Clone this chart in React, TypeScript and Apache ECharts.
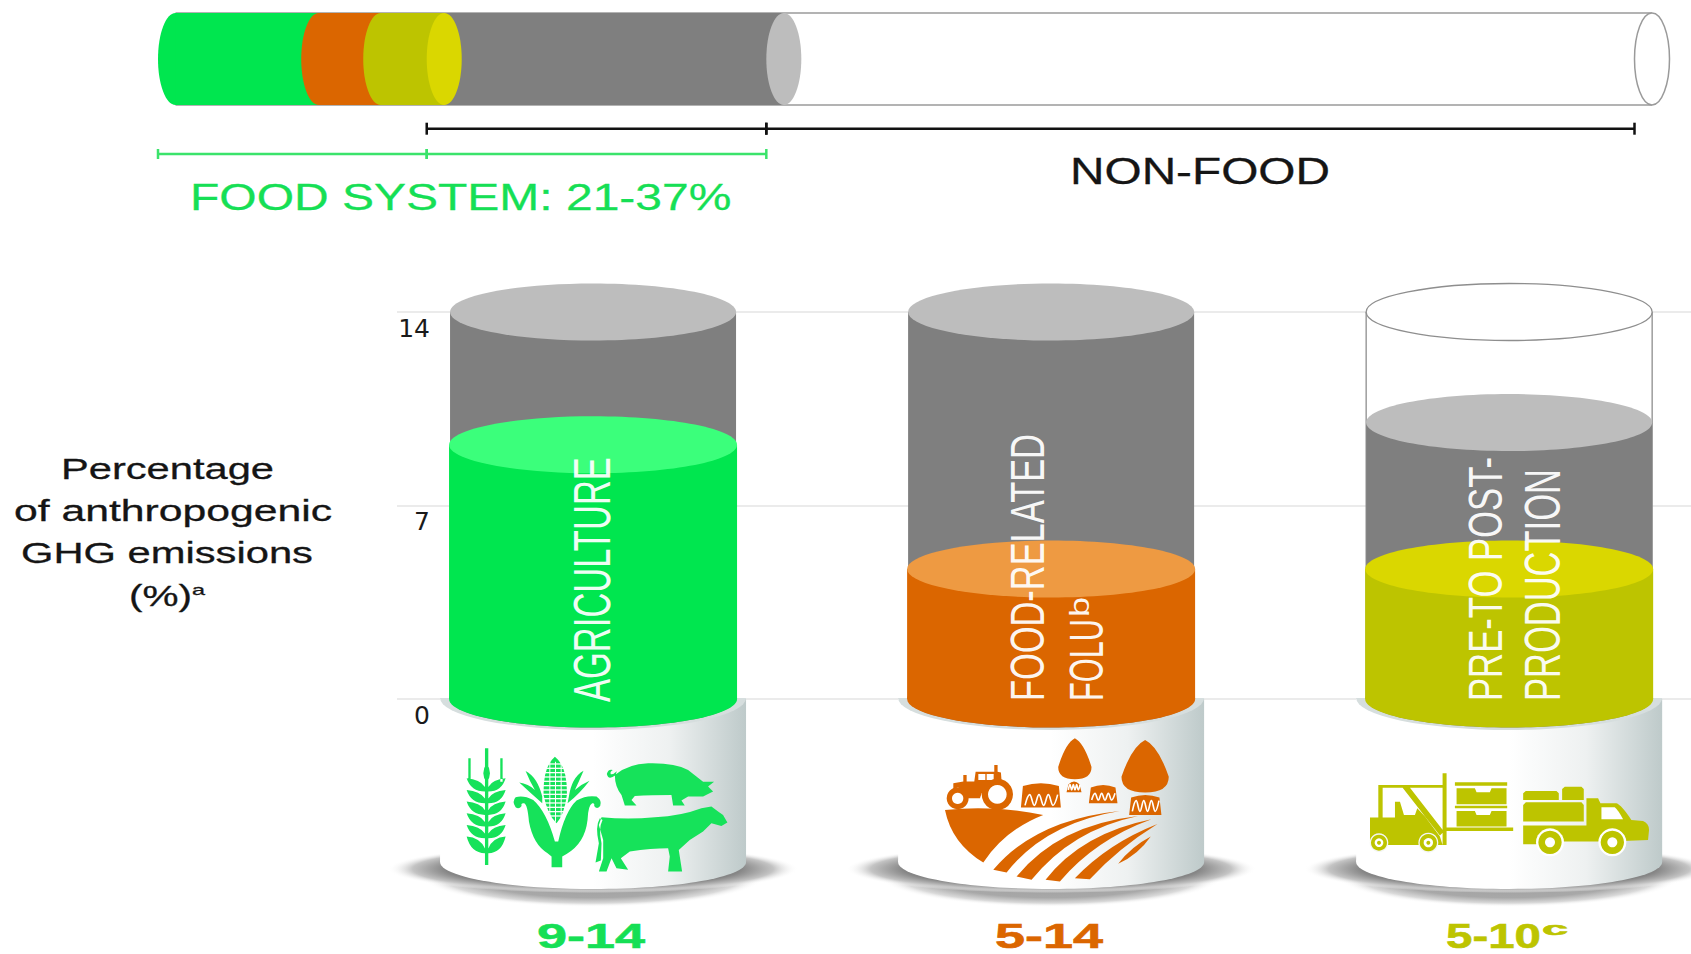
import React, { useEffect, useRef } from "react";
import * as echarts from "echarts";

// ---- data ----
const categories = ["Agriculture", "Food-related FOLU", "Pre- to post-production"];
const lowValues = [9.2, 4.7, 4.7];
const highValues = [14, 14, 10];
const capacity = 14;
const yTicks = [0, 7, 14];
const rangeLabels = ["9-14", "5-14", "5-10"];

const foodStops = [0, 9.7, 13.9, 18.2];
const greyStops = [18.2, 41.2];
const tubeStops = [0, 100];
const bracketGreen = [0, 18.2, 41.2];
const bracketBlack = [18.2, 41.2, 100];

// ---- colours ----
const GREEN = "#00E64F", ORANGE = "#DB6600", OLIVE = "#BDC400", GREY = "#7F7F7F", LIGHT = "#BDBDBD";
const topColors = ["#3BFF7B", "#EE9A42", "#DAD700"];
const lowColors = [GREEN, ORANGE, OLIVE];
const textColors = ["#16DF55", "#DB6600", "#BDC400"];
const FONT = '"Liberation Sans", Arial, sans-serif';

// ---- text helpers (the reference is horizontally stretched) ----
const ctx = document.createElement("canvas").getContext("2d") as CanvasRenderingContext2D;
const natural = (s: string, fs: number, weight = "normal") => {
  ctx.font = `${weight} ${fs}px "Liberation Sans"`;
  return ctx.measureText(s).width;
};
const hText = (s: string, left: number, cy: number, width: number, capH: number, fill: string, weight = "normal", heavy = 0.3) => {
  const fs = capH / 0.716;
  return {
    type: "text", z: 100, x: left, y: cy, scaleX: width / natural(s, fs, weight), silent: true,
    style: { text: s, fontSize: fs, lineHeight: Math.round(capH * 1.2), fontFamily: FONT, fontWeight: weight, fill, stroke: fill, lineWidth: heavy, align: "left", verticalAlign: "middle", textAlign: "left", textVerticalAlign: "middle" },
  };
};
const vText = (s: string, xLeft: number, xRight: number, yBottom: number, yTop: number, fs = 30) => ({
  type: "text", z: 100, x: (xLeft + xRight) / 2, y: yBottom, rotation: Math.PI / 2, silent: true,
  scaleX: (yBottom - yTop) / natural(s, fs),
  scaleY: (xRight - xLeft) / (0.716 * fs),
  style: { text: s, fontSize: fs, fontFamily: FONT, fill: "#FFFFFF", opacity: 0.95, align: "left", verticalAlign: "middle", textAlign: "left", textVerticalAlign: "middle" },
});

// ---- icons, drawn in 3x local units of their own patch ----
let shapeId = 0;
const icon = (d: string, fill: string, ox: number, oy: number) => {
  const name = "icon" + shapeId++;
  echarts.graphic.registerShape(name, (echarts.graphic as any).extendPath(d, {}));
  return { type: name, z: 90, x: ox, y: oy, scaleX: 1 / 3, scaleY: 1 / 3, silent: true, style: { fill } };
};
const dot = (ox: number, oy: number) => (u: number, v: number, r: number, fill: string, z = 91) => ({
  type: "circle", z, silent: true, shape: { cx: ox + u / 3, cy: oy + v / 3, r: r / 3 }, style: { fill },
});
const squiggle = (ox: number, oy: number, l: number, r: number, v: number, amp: number) => {
  const points: number[][] = [];
  const n = 7;
  for (let i = 0; i <= n; i++) points.push([ox + (l + ((r - l) * i) / n) / 3, oy + (v + (i % 2 ? -amp : amp)) / 3]);
  return { type: "polyline", z: 92, silent: true, shape: { points, smooth: 0.4 }, style: { stroke: "#FFFFFF", lineWidth: 1.6, fill: "none" } };
};

const G_X = 455, G_Y = 740, O_X = 935, O_Y = 730, Y_X = 1360, Y_Y = 765;
const ICON_GREEN = "#16E25A";

let wheat = "M90 25L100 25L100 375L90 375Z M95 70Q115 100 95 128Q75 100 95 70Z M40 55L47 55L47 125L40 125Z M136 55L143 55L143 125L136 125Z ";
[0, 1, 2, 3, 4, 5].forEach((i) => {
  const v = 115 + i * 35;
  const h = i === 5 ? 50 : 40;
  wheat += `M90 ${v + h}Q48 ${v + h} 35 ${v}Q75 ${v + 3} 90 ${v + h - 14}Z M100 ${v + h}Q140 ${v + h} 152 ${v}Q113 ${v + 3} 100 ${v + h - 14}Z `;
});
const cornCob = "M300 50Q338 80 336 165Q328 225 305 250Q278 225 266 165Q264 80 300 50Z";
const cornHusk =
  "M300 305Q275 215 235 180Q205 165 182 172Q170 185 182 202Q192 210 200 198Q197 188 208 190Q218 195 222 245Q235 315 278 340L290 350L290 382L322 382L322 350L335 342Q390 310 398 240Q400 195 412 190Q420 188 418 198Q426 210 436 198Q442 182 425 170Q395 165 365 182Q330 215 310 305Z " +
  "M262 170Q248 112 212 93Q225 125 240 150Q220 132 193 128Q225 158 262 190Z M342 170Q350 112 386 92Q372 125 360 150Q380 132 404 122Q375 160 338 190Z";
const pig =
  "M480 105Q520 72 580 70Q660 68 700 90L745 125L778 125L760 140L775 155L745 170L700 170L680 182L690 197L655 197L650 165Q590 165 540 168L530 180L545 197L510 197L500 165Q480 140 480 105Z " +
  "M482 106Q460 122 456 102Q460 86 474 90Q464 95 468 103Q476 104 486 94Z";
const cow =
  "M440 232Q520 240 600 232Q680 228 740 205L770 200L790 215L805 225L818 248L800 258L770 250L745 275L705 300L672 330L682 395L640 395L645 350L640 325Q590 325 525 335L498 355L520 390L485 385L470 355L455 395L432 395L445 355L445 300L432 255Z " +
  "M435 235Q420 260 432 310L422 368L438 362L440 310Q430 265 443 240Z";

const cornStripes = [70, 83, 96, 109, 122, 135, 148, 161, 174, 187, 200, 213, 226].map((v) => ({
  type: "rect", z: 91, silent: true, shape: { x: G_X + 262 / 3, y: G_Y + v / 3, width: 26, height: 1.3 }, style: { fill: "#FFFFFF" },
}));
const cornRibs = [283, 300, 317].map((u) => ({
  type: "rect", z: 91, silent: true, shape: { x: G_X + u / 3, y: G_Y + 65 / 3, width: 1, height: 60 }, style: { fill: "#FFFFFF" },
}));

const tree = (l: number, r: number, t: number, b: number) => {
  const m = (l + r) / 2, h = b - t;
  return `M${m} ${t}Q${m + (r - l) * 0.28} ${t + h * 0.12} ${r} ${t + h * 0.7}Q${r} ${b} ${m} ${b}Q${l} ${b} ${l} ${t + h * 0.7}Q${m - (r - l) * 0.28} ${t + h * 0.12} ${m} ${t}Z `;
};
const stump = (l: number, r: number, t: number, b: number) =>
  `M${l + 6} ${t + 8}Q${(l + r) / 2} ${t - 8} ${r - 6} ${t + 8}L${r} ${b}L${l} ${b}Z `;
const field =
  "M30 240Q180 225 325 255Q210 300 145 398Q50 340 30 240Z " +
  "M175 420Q300 270 555 243Q330 280 215 428Z M245 440Q370 285 610 258Q410 300 290 450Z " +
  "M332 450Q440 310 650 268Q480 330 375 455Z M420 445Q520 340 668 282Q550 355 465 448Z M550 402Q590 350 648 320Q610 375 550 402Z";
const tractor =
  "M55 160L85 155L85 135L95 135L95 155L118 155L122 125L178 125L178 105L188 105L188 125L198 128L200 155Q160 155 140 190L135 205L100 205Q95 180 68 172L55 180Z";
const O = dot(O_X, O_Y);
const Y = dot(Y_X, Y_Y);

const forklift =
  "M30 158L105 158L105 110L120 110L132 150L165 150L172 130L195 155L240 215L248 240L30 240Z " +
  "M55 60L248 60L248 68L68 68L68 158L55 158Z M128 68L150 68L252 200L240 212Z M248 25L260 25L260 240L248 240Z M260 188L460 188L460 198L260 198Z";
const boxes =
  "M285 52L442 52L442 62L285 62Z M290 70L345 70L350 82L390 82L395 70L440 70L440 118L290 118Z M285 122L442 122L442 130L285 130Z M290 138L345 138L350 150L390 150L395 138L440 138L440 185L290 185Z";
const truck =
  "M498 78L590 78L597 85L597 105L490 105L490 85Z M615 65L665 65L672 72L672 105L607 105L607 72Z M498 112L665 112L672 120L672 170L490 170L490 120Z " +
  "M490 182L680 182L680 100L715 100L722 115L770 115Q785 120 815 165L850 168Q868 175 868 195L865 225L790 228Q780 198 755 198Q725 198 718 230L610 230Q600 198 570 198Q540 198 530 238L490 238Z";
const truckWindow = "M725 127L765 127Q775 135 790 163L725 163Z";

const iconElements: any[] = [
  icon(wheat, ICON_GREEN, G_X, G_Y),
  icon(cornCob, ICON_GREEN, G_X, G_Y),
  ...cornStripes, ...cornRibs,
  { ...icon(cornHusk, ICON_GREEN, G_X, G_Y), z: 93 },
  icon(pig, ICON_GREEN, G_X, G_Y),
  icon(cow, ICON_GREEN, G_X, G_Y),

  icon(tractor, ORANGE, O_X, O_Y),
  { type: "rect", z: 91, silent: true, shape: { x: O_X + 130 / 3, y: O_Y + 132 / 3, width: 7, height: 6 }, style: { fill: "#FFFFFF" } },
  { type: "rect", z: 91, silent: true, shape: { x: O_X + 155 / 3, y: O_Y + 132 / 3, width: 7, height: 6 }, style: { fill: "#FFFFFF" } },
  O(68, 205, 33, ORANGE), O(68, 205, 17, "#FFFFFF", 92), O(187, 193, 47, ORANGE), O(187, 193, 28, "#FFFFFF", 92),
  icon(tree(370, 470, 25, 148) + tree(560, 702, 30, 188), ORANGE, O_X, O_Y),
  icon(stump(258, 378, 160, 233) + stump(395, 440, 155, 187) + stump(462, 548, 165, 220) + stump(583, 680, 195, 255), ORANGE, O_X, O_Y),
  squiggle(O_X, O_Y, 270, 368, 210, 16), squiggle(O_X, O_Y, 400, 435, 172, 8), squiggle(O_X, O_Y, 470, 540, 200, 10), squiggle(O_X, O_Y, 592, 672, 228, 16),
  icon(field, ORANGE, O_X, O_Y),

  icon(forklift, OLIVE, Y_X, Y_Y), icon(boxes, OLIVE, Y_X, Y_Y), icon(truck, OLIVE, Y_X, Y_Y),
  { ...icon(truckWindow, "#FFFFFF", Y_X, Y_Y), z: 91 },
  Y(57, 233, 28, "#F4F6F4", 92), Y(57, 233, 24, OLIVE, 92), Y(57, 233, 13, "#FFFFFF", 93), Y(57, 233, 6, OLIVE, 94),
  Y(205, 233, 30, "#F4F6F4", 92), Y(205, 233, 26, OLIVE, 92), Y(205, 233, 14, "#FFFFFF", 93), Y(205, 233, 6, OLIVE, 94),
  Y(570, 232, 42, "#FFFFFF", 92), Y(570, 232, 35, OLIVE, 92), Y(570, 232, 15, "#FFFFFF", 93),
  Y(757, 232, 42, "#FFFFFF", 92), Y(757, 232, 35, OLIVE, 92), Y(757, 232, 15, "#FFFFFF", 93),
];

const textElements: any[] = [
  hText("FOOD SYSTEM: 21-37%", 190, 197, 541, 27, "#16DF55"),
  hText("NON-FOOD", 1070, 171, 260, 27, "#151515"),
  hText("Percentage", 61, 469, 213, 21.5, "#151515"),
  hText("of anthropogenic", 14, 511, 318, 21.5, "#151515"),
  hText("GHG emissions", 21, 553, 292, 21.5, "#151515"),
  hText("(%)", 129, 596, 63, 21.5, "#151515"),
  hText("a", 192, 590, 13, 11, "#151515"),
  vText("AGRICULTURE", 573, 610, 702, 457),
  vText("FOOD-RELATED", 1010, 1045, 701, 434),
  vText("FOLU", 1069, 1104, 701, 619),
  { ...vText("b", 1069, 1089, 617, 597), x: 1079 },
  vText("PRE-TO POST-", 1468, 1503, 701, 457),
  vText("PRODUCTION", 1525, 1561, 701, 469),
  hText(rangeLabels[0], 537, 935.5, 108, 25.5, textColors[0], "bold", 0.6),
  hText(rangeLabels[1], 995, 935.5, 108, 25.5, textColors[1], "bold", 0.6),
  hText(rangeLabels[2], 1446, 935.5, 95, 25.5, textColors[2], "bold", 0.6),
  hText("c", 1542, 929, 26, 13, textColors[2], "bold", 0.6),
];

// ---- series renderers ----
const BAR_RX = 17.5, BAR_RY = 46;
const renderTube = (_: any, api: any) => {
  const [x0, yc] = api.coord([api.value(0), 0.5]);
  const [x1] = api.coord([api.value(1), 0.5]);
  const line = { stroke: "#9A9A9A", lineWidth: 1.5 };
  return {
    type: "group",
    children: [
      { type: "rect", shape: { x: x0, y: yc - BAR_RY, width: x1 - x0, height: BAR_RY * 2 }, style: { fill: "#FFFFFF" } },
      { type: "line", shape: { x1: x0, y1: yc - BAR_RY, x2: x1, y2: yc - BAR_RY }, style: line },
      { type: "line", shape: { x1: x0, y1: yc + BAR_RY, x2: x1, y2: yc + BAR_RY }, style: line },
      { type: "ellipse", shape: { cx: x1, cy: yc, rx: BAR_RX, ry: BAR_RY }, style: { fill: "#FFFFFF", ...line } },
    ],
  };
};
const renderGrey = (_: any, api: any) => {
  const [x0, yc] = api.coord([api.value(0), 0.5]);
  const [x1] = api.coord([api.value(1), 0.5]);
  return {
    type: "group",
    children: [
      { type: "rect", shape: { x: x0, y: yc - BAR_RY, width: x1 - x0, height: BAR_RY * 2 }, style: { fill: GREY } },
      { type: "ellipse", shape: { cx: x1, cy: yc, rx: BAR_RX, ry: BAR_RY }, style: { fill: LIGHT } },
    ],
  };
};
const segCap = [null, null, topColors[2]];
const renderSegment = (p: any, api: any) => {
  const [x0, yc] = api.coord([api.value(0), 0.5]);
  const [x1] = api.coord([api.value(1), 0.5]);
  const i = p.dataIndex;
  const kids: any[] = [
    { type: "ellipse", shape: { cx: x0, cy: yc, rx: BAR_RX, ry: BAR_RY }, style: { fill: lowColors[i] } },
    { type: "rect", shape: { x: x0, y: yc - BAR_RY, width: x1 - x0, height: BAR_RY * 2 }, style: { fill: lowColors[i] } },
  ];
  if (segCap[i]) kids.push({ type: "ellipse", shape: { cx: x1, cy: yc, rx: BAR_RX, ry: BAR_RY }, style: { fill: segCap[i] } });
  return { type: "group", children: kids };
};
const renderBracket = (color: string, y: number, half: number, width: number) => (_: any, api: any) => {
  const [x0] = api.coord([api.value(0), 0.5]);
  const [x1] = api.coord([api.value(1), 0.5]);
  const a = x0 - BAR_RX, b = x1 - BAR_RX;
  const st = { stroke: color, lineWidth: width };
  return {
    type: "group",
    children: [
      { type: "line", shape: { x1: a, y1: y, x2: b, y2: y }, style: st },
      { type: "line", shape: { x1: a, y1: y - half, x2: a, y2: y + half }, style: st },
      { type: "line", shape: { x1: b, y1: y - half, x2: b, y2: y + half }, style: st },
    ],
  };
};

const RX = 143, RY = 28.5;
const pedestalGradient = {
  type: "linear", x: 0, y: 0, x2: 1, y2: 0,
  colorStops: [
    { offset: 0, color: "#FFFFFF" }, { offset: 0.5, color: "#FFFFFF" },
    { offset: 0.75, color: "#EEF1F1" }, { offset: 1, color: "#BECACA" },
  ],
};
const sideShadow = {
  type: "radial", x: 0.5, y: 0.5, r: 0.5,
  colorStops: [
    { offset: 0, color: "#6A6A6A" }, { offset: 0.72, color: "#868686" }, { offset: 0.88, color: "#C4C4C4" }, { offset: 1, color: "rgba(255,255,255,0)" },
  ],
};
const underShadow = {
  type: "radial", x: 0.5, y: 0.5, r: 0.5,
  colorStops: [
    { offset: 0, color: "#999999" }, { offset: 0.7, color: "#A8A8A8" }, { offset: 0.88, color: "#DADADA" }, { offset: 1, color: "rgba(255,255,255,0)" },
  ],
};
const renderCylinder = (p: any, api: any) => {
  const i = p.dataIndex;
  const [cx, y0] = api.coord([api.value(0), 0]);
  const [, yLow] = api.coord([api.value(0), api.value(1)]);
  const [, yHigh] = api.coord([api.value(0), api.value(2)]);
  const [, yCap] = api.coord([api.value(0), capacity]);
  const body = (top: number, bottom: number, fill: string, rx = RX) => [
    { type: "ellipse", shape: { cx, cy: bottom, rx, ry: RY }, style: { fill } },
    { type: "rect", shape: { x: cx - rx, y: top, width: rx * 2, height: bottom - top }, style: { fill } },
  ];
  const lineSt = { stroke: "#8E8E8E", lineWidth: 1.3 };
  const open = api.value(2) < capacity;
  const tube: any[] = open
    ? [
        { type: "rect", shape: { x: cx - RX, y: yCap, width: RX * 2, height: y0 - yCap }, style: { fill: "#FFFFFF" } },
        { type: "line", shape: { x1: cx - RX, y1: yCap, x2: cx - RX, y2: y0 }, style: lineSt },
        { type: "line", shape: { x1: cx + RX, y1: yCap, x2: cx + RX, y2: y0 }, style: lineSt },
        { type: "ellipse", shape: { cx, cy: yCap, rx: RX, ry: RY }, style: { fill: "#FFFFFF", ...lineSt } },
      ]
    : [];
  return {
    type: "group",
    children: [
      { type: "circle", x: cx, y: y0 + 177, scaleY: 31 / 172, shape: { cx: 0, cy: 0, r: 172 }, style: { fill: underShadow } },
      { type: "circle", x: cx, y: y0 + 170, scaleY: 24 / 205, shape: { cx: 0, cy: 0, r: 205 }, style: { fill: sideShadow } },
      { type: "ellipse", shape: { cx, cy: y0 + 163, rx: 153, ry: 27 }, style: { fill: pedestalGradient } },
      { type: "rect", shape: { x: cx - 153, y: y0, width: 306, height: 163 }, style: { fill: pedestalGradient } },
      {
        type: "path",
        shape: { pathData: "M-153 0A153 32 0 0 0 153 0Z", x: cx - 153, y: y0 - 1, width: 306, height: 32, layout: "cover" },
        style: { fill: "#D6DEDE" },
      },
      ...tube,
      ...body(yHigh, y0, GREY),
      { type: "ellipse", shape: { cx, cy: yHigh, rx: RX, ry: RY }, style: { fill: LIGHT } },
      ...body(yLow, y0, lowColors[i], RX + 1),
      { type: "ellipse", shape: { cx, cy: yLow, rx: RX + 1, ry: RY }, style: { fill: topColors[i] } },
    ],
  };
};

export default function App() {
  const ref = useRef<HTMLDivElement>(null);
  useEffect(() => {
    document.body.style.margin = "0";
    document.body.style.background = "#fff";
    const chart = echarts.init(ref.current as HTMLDivElement, null, { renderer: "svg" });
    const top = { xAxisIndex: 1, yAxisIndex: 1, silent: true, clip: false, type: "custom" };
    chart.setOption({
      animation: false,
      backgroundColor: "#FFFFFF",
      grid: [
        { left: 397, right: 0, top: 312, height: 387, containLabel: false },
        { left: 175.5, width: 1476.5, top: 13, height: 92, containLabel: false },
      ],
      xAxis: [
        { type: "value", gridIndex: 0, min: -0.428, max: 2.397, show: false, splitLine: { show: false } },
        { type: "value", gridIndex: 1, min: 0, max: 100, show: false, splitLine: { show: false } },
      ],
      yAxis: [
        {
          type: "value", gridIndex: 0, min: yTicks[0], max: yTicks[2], interval: yTicks[1],
          axisLine: { show: false }, axisTick: { show: false },
          splitLine: { show: true, lineStyle: { color: "#E4E4E4", width: 1.5 } },
          axisLabel: { margin: -33, align: "right", verticalAlign: "top", lineHeight: 32, fontSize: 25, color: "#1A1A1A", fontFamily: '"DejaVu Sans", sans-serif' },
        },
        { type: "value", gridIndex: 1, min: 0, max: 1, show: false, splitLine: { show: false } },
      ],
      series: [
        { ...top, name: "Non-food", renderItem: renderTube, data: [[tubeStops[0], tubeStops[1]]] },
        { ...top, name: "Grey", renderItem: renderGrey, data: [[greyStops[0], greyStops[1]]] },
        { ...top, name: "Food", renderItem: renderSegment, data: [0, 1, 2].map((i) => [foodStops[i], foodStops[i + 1]]) },
        { ...top, name: "Food bracket", renderItem: renderBracket("#3BE36B", 154, 5, 2.5), data: [[bracketGreen[0], bracketGreen[1]], [bracketGreen[1], bracketGreen[2]]] },
        { ...top, name: "Non-food bracket", renderItem: renderBracket("#111111", 128.7, 6, 2.5), data: [[bracketBlack[0], bracketBlack[1]], [bracketBlack[1], bracketBlack[2]]] },
        {
          type: "custom", name: "Sources", xAxisIndex: 0, yAxisIndex: 0, silent: true, clip: false, renderItem: renderCylinder,
          data: categories.map((_, i) => [i, lowValues[i], highValues[i]]),
        },
      ],
      graphic: [...iconElements, ...textElements],
    });
    return () => chart.dispose();
  }, []);
  return <div ref={ref} style={{ width: 1691, height: 954 }} />;
}
